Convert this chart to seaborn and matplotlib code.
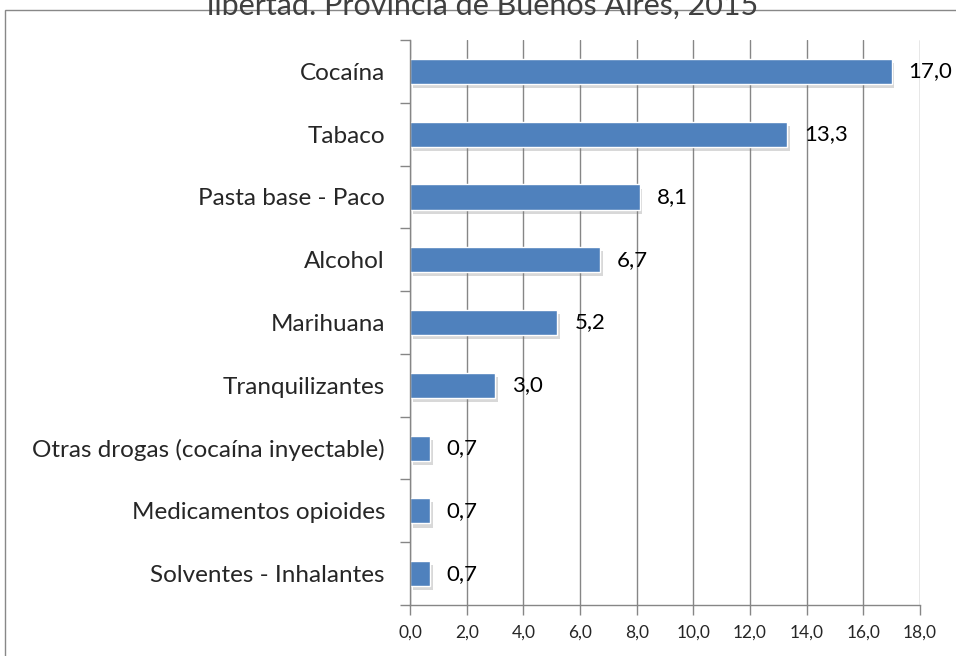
import matplotlib
matplotlib.use("Agg")
import matplotlib.pyplot as plt
import matplotlib.patheffects as pe
from matplotlib.patches import Rectangle
import seaborn as sns
import pandas as pd

# Data
sustancias = ["Cocaína", "Tabaco", "Pasta base - Paco", "Alcohol", "Marihuana",
              "Tranquilizantes", "Otras drogas (cocaína inyectable)",
              "Medicamentos opioides", "Solventes - Inhalantes"]
porcentajes = [17.0, 13.3, 8.1, 6.7, 5.2, 3.0, 0.7, 0.7, 0.7]
xticks = [0, 2, 4, 6, 8, 10, 12, 14, 16, 18]
titulo = "libertad. Provincia de Buenos Aires, 2015"

df = pd.DataFrame({"sustancia": sustancias, "pct": porcentajes})

sns.set_theme(style="white")
plt.rcParams['font.family'] = ['Lato', 'DejaVu Sans']

fig = plt.figure(figsize=(9.56, 6.56), dpi=100)
ax = fig.add_axes([410/956, 1 - 605/656, 510/956, 565/656])

sns.barplot(data=df, x="pct", y="sustancia", orient="h", color="#4F81BD",
            saturation=1, width=0.4, edgecolor="white", linewidth=1.0, ax=ax)

# soft shadow under the bars
for p in ax.patches:
    p.set_path_effects([pe.SimplePatchShadow(offset=(2, -3), shadow_rgbFace="#7f7f7f", alpha=0.3),
                        pe.Normal()])

# value labels
for i, v in enumerate(porcentajes):
    ax.annotate(f"{v:.1f}".replace(".", ","), xy=(v, i), xytext=(17, 0),
                textcoords="offset pixels", va="center", ha="left",
                fontsize=16, color="black")

ax.set_xlim(0, 18)
ax.set_ylim(8.5, -0.5)
ax.set_xticks(xticks)
ax.set_xticklabels([f"{t:.1f}".replace(".", ",") for t in xticks], fontsize=12.5)
ax.set_yticks(range(len(sustancias)))
ax.set_yticklabels(sustancias, fontsize=17.5)
ax.set_yticks([i - 0.5 for i in range(len(sustancias) + 1)], minor=True)
ax.tick_params(axis="y", which="major", length=0, pad=18)
ax.tick_params(axis="y", which="minor", length=7, width=1, color="#868686", direction="out", left=True)
ax.tick_params(axis="x", length=7, width=1, color="#868686", direction="out", bottom=True, pad=7)
ax.set_xlabel("")
ax.set_ylabel("")

ax.grid(axis="x", color="#868686", linewidth=1)
ax.set_axisbelow(True)
for s in ["top", "right"]:
    ax.spines[s].set_visible(False)
for s in ["left", "bottom"]:
    ax.spines[s].set_color("#868686")
    ax.spines[s].set_linewidth(1)

# outer chart border
fig.patches.append(Rectangle((5/956, -0.1), 1.2, 1 - 10/656 + 0.1, transform=fig.transFigure,
                             fill=False, edgecolor="#888888", linewidth=1))

# title (clipped at top in the original)
fig.text(0.505, 1 - 15/656, titulo, ha="center", va="baseline",
         fontsize=22, color="#404040")

fig.savefig("out.png", dpi=100)
